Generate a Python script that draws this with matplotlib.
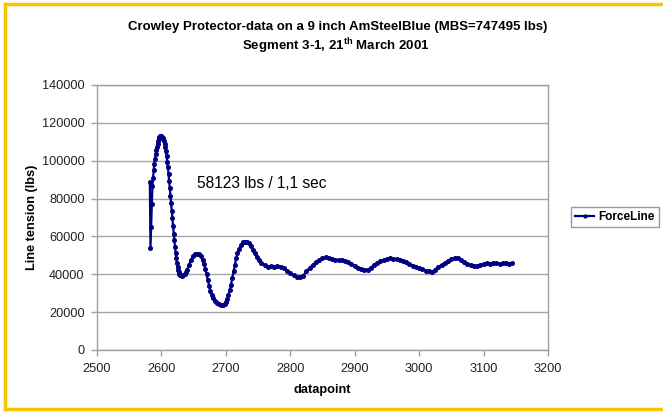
import matplotlib
matplotlib.use('Agg')
import matplotlib.pyplot as plt
from matplotlib.lines import Line2D

plt.rcParams['font.family'] = ['Liberation Sans', 'DejaVu Sans']
plt.rcParams['mathtext.fontset'] = 'custom'
plt.rcParams['mathtext.rm'] = 'Liberation Sans:bold'

# datapoint index and measured line tension (lbs)
datapoint = [2582, 2583, 2584, 2585, 2586, 2587, 2588, 2589, 2590, 2591,
             2592, 2593, 2594, 2595, 2596, 2597, 2598, 2599, 2600, 2601,
             2602, 2603, 2604, 2605, 2606, 2607, 2608, 2609, 2610, 2611,
             2612, 2613, 2614, 2615, 2616, 2617, 2618, 2619, 2620, 2621,
             2622, 2623, 2624, 2625, 2626, 2627, 2628, 2629, 2630, 2632,
             2634, 2636, 2638, 2640, 2643, 2646, 2649, 2652, 2655, 2658,
             2661, 2664, 2666, 2668, 2670, 2672, 2674, 2676, 2678, 2680,
             2683, 2686, 2689, 2692, 2695, 2698, 2700, 2702, 2704, 2706,
             2708, 2710, 2712, 2714, 2716, 2718, 2721, 2724, 2727, 2730,
             2733, 2736, 2739, 2742, 2745, 2748, 2751, 2755, 2760, 2765,
             2770, 2775, 2780, 2785, 2790, 2795, 2800, 2805, 2810, 2815,
             2820, 2825, 2830, 2835, 2840, 2845, 2850, 2855, 2860, 2865,
             2870, 2875, 2880, 2885, 2890, 2895, 2900, 2905, 2910, 2915,
             2920, 2925, 2930, 2935, 2940, 2945, 2950, 2955, 2960, 2965,
             2970, 2975, 2980, 2985, 2990, 2995, 3000, 3005, 3010, 3015,
             3020, 3025, 3030, 3035, 3040, 3045, 3050, 3055, 3060, 3065,
             3070, 3075, 3080, 3085, 3090, 3095, 3100, 3105, 3110, 3115,
             3120, 3125, 3130, 3135, 3140, 3144]
tension = [88500, 54000, 65000, 77000, 86500, 91000, 95000, 98500, 101000, 103500,
           105500, 107500, 109000, 110500, 111500, 112300, 112800, 113000, 112800, 112500,
           112000, 111500, 110500, 109000, 107000, 105000, 102500, 99500, 96500, 93000,
           89500, 85500, 81500, 77500, 73500, 69500, 65500, 61500, 58000, 54500,
           51500, 48500, 46000, 44000, 42500, 41200, 40300, 39800, 39500, 39300,
           39500, 40000, 41000, 42500, 45000, 47500, 49500, 50500, 50800, 50500,
           49500, 47500, 45500, 43000, 40000, 37000, 34000, 31000, 29000, 27500,
           26000, 25000, 24300, 23800, 23800, 24500, 25500, 27000, 29000, 31500,
           34500, 38000, 41500, 45000, 48500, 51000, 53500, 55500, 56800, 57300,
           57200, 56500, 55000, 53000, 51000, 49000, 47500, 46000, 44800, 44000,
           44200, 44000, 44300, 44000, 43500, 42000, 40500, 39500, 38800, 38500,
           39300, 41500, 43500, 45000, 46500, 47500, 48500, 49000, 48500, 48000,
           47800, 47500, 47500, 47000, 46500, 45500, 44500, 43500, 42800, 42500,
           42500, 43500, 45000, 46000, 47000, 47500, 48000, 48500, 48300, 48000,
           47500, 47000, 46500, 45500, 44500, 44000, 43500, 43000, 42000, 41500,
           41200, 42500, 44000, 45000, 46000, 47000, 48000, 48700, 48700, 47500,
           46500, 45500, 44800, 44500, 44500, 45000, 45500, 45800, 45500, 45800,
           46000, 45500, 45800, 46000, 45500, 45800]

title_lines = ['Crowley Protector-data on a 9 inch AmSteelBlue (MBS=747495 lbs)',
               r'Segment 3-1, 21$^{\mathrm{th}}$ March 2001']
note = '58123 lbs / 1,1 sec'

fig = plt.figure(figsize=(6.63, 4.13), dpi=100)
ax = fig.add_axes([97 / 663, 1 - 350 / 413, (548 - 97) / 663, (350 - 85) / 413])

ax.plot(datapoint, tension, color='#000080', lw=1.6, marker='o', ms=2.6,
        mec='#000080', mfc='#000080', label='ForceLine')

ax.set_xlim(2500, 3200)
ax.set_ylim(0, 140000)
ax.set_xticks(range(2500, 3201, 100))
ax.set_yticks(range(0, 140001, 20000))
ax.grid(axis='y', color='#a6a6a6', lw=1.0)
ax.set_axisbelow(True)
for side in ['left', 'bottom', 'right', 'top']:
    ax.spines[side].set_color('#a0a0a0')
    ax.spines[side].set_linewidth(1.0)
ax.tick_params(colors='#a0a0a0', labelcolor='#222222', labelsize=9.2,
               length=4, width=1, direction='out', pad=5)

ax.set_xlabel('datapoint', fontsize=9.2, fontweight='bold', labelpad=7)
ax.set_ylabel('Line tension (lbs)', fontsize=9.2, fontweight='bold', labelpad=3)

ax.text(2655, 88000, note, fontsize=11.2, va='center', ha='left', color='black')

fig.text(0.509, 1 - 27 / 413, title_lines[0], ha='center', va='center',
         fontsize=9.5, fontweight='bold')
fig.text(0.506, 1 - 46 / 413, title_lines[1], ha='center', va='center',
         fontsize=9.5, fontweight='bold')

leg = fig.legend(loc='center left', bbox_to_anchor=(571 / 663, 1 - 217 / 413),
                 frameon=True, fancybox=False, handlelength=1.6, markerscale=0.8,
                 borderpad=0.35, handletextpad=0.4, borderaxespad=0,
                 prop={'weight': 'bold', 'size': 8.5})
leg.get_frame().set_edgecolor('#808080')
leg.get_frame().set_linewidth(1.0)

# gold frame around the slide
gold = '#f7c600'
fig.add_artist(Line2D([5 / 663, 1], [1 - 4 / 413, 1 - 4 / 413], color=gold, lw=2.5))
fig.add_artist(Line2D([5 / 663, 5 / 663], [1 - 4 / 413, 1 - 409 / 413], color=gold, lw=2.5))
fig.add_artist(Line2D([5 / 663, 1], [1 - 409 / 413, 1 - 409 / 413], color=gold, lw=2.5))

fig.savefig('out.png', dpi=100)
